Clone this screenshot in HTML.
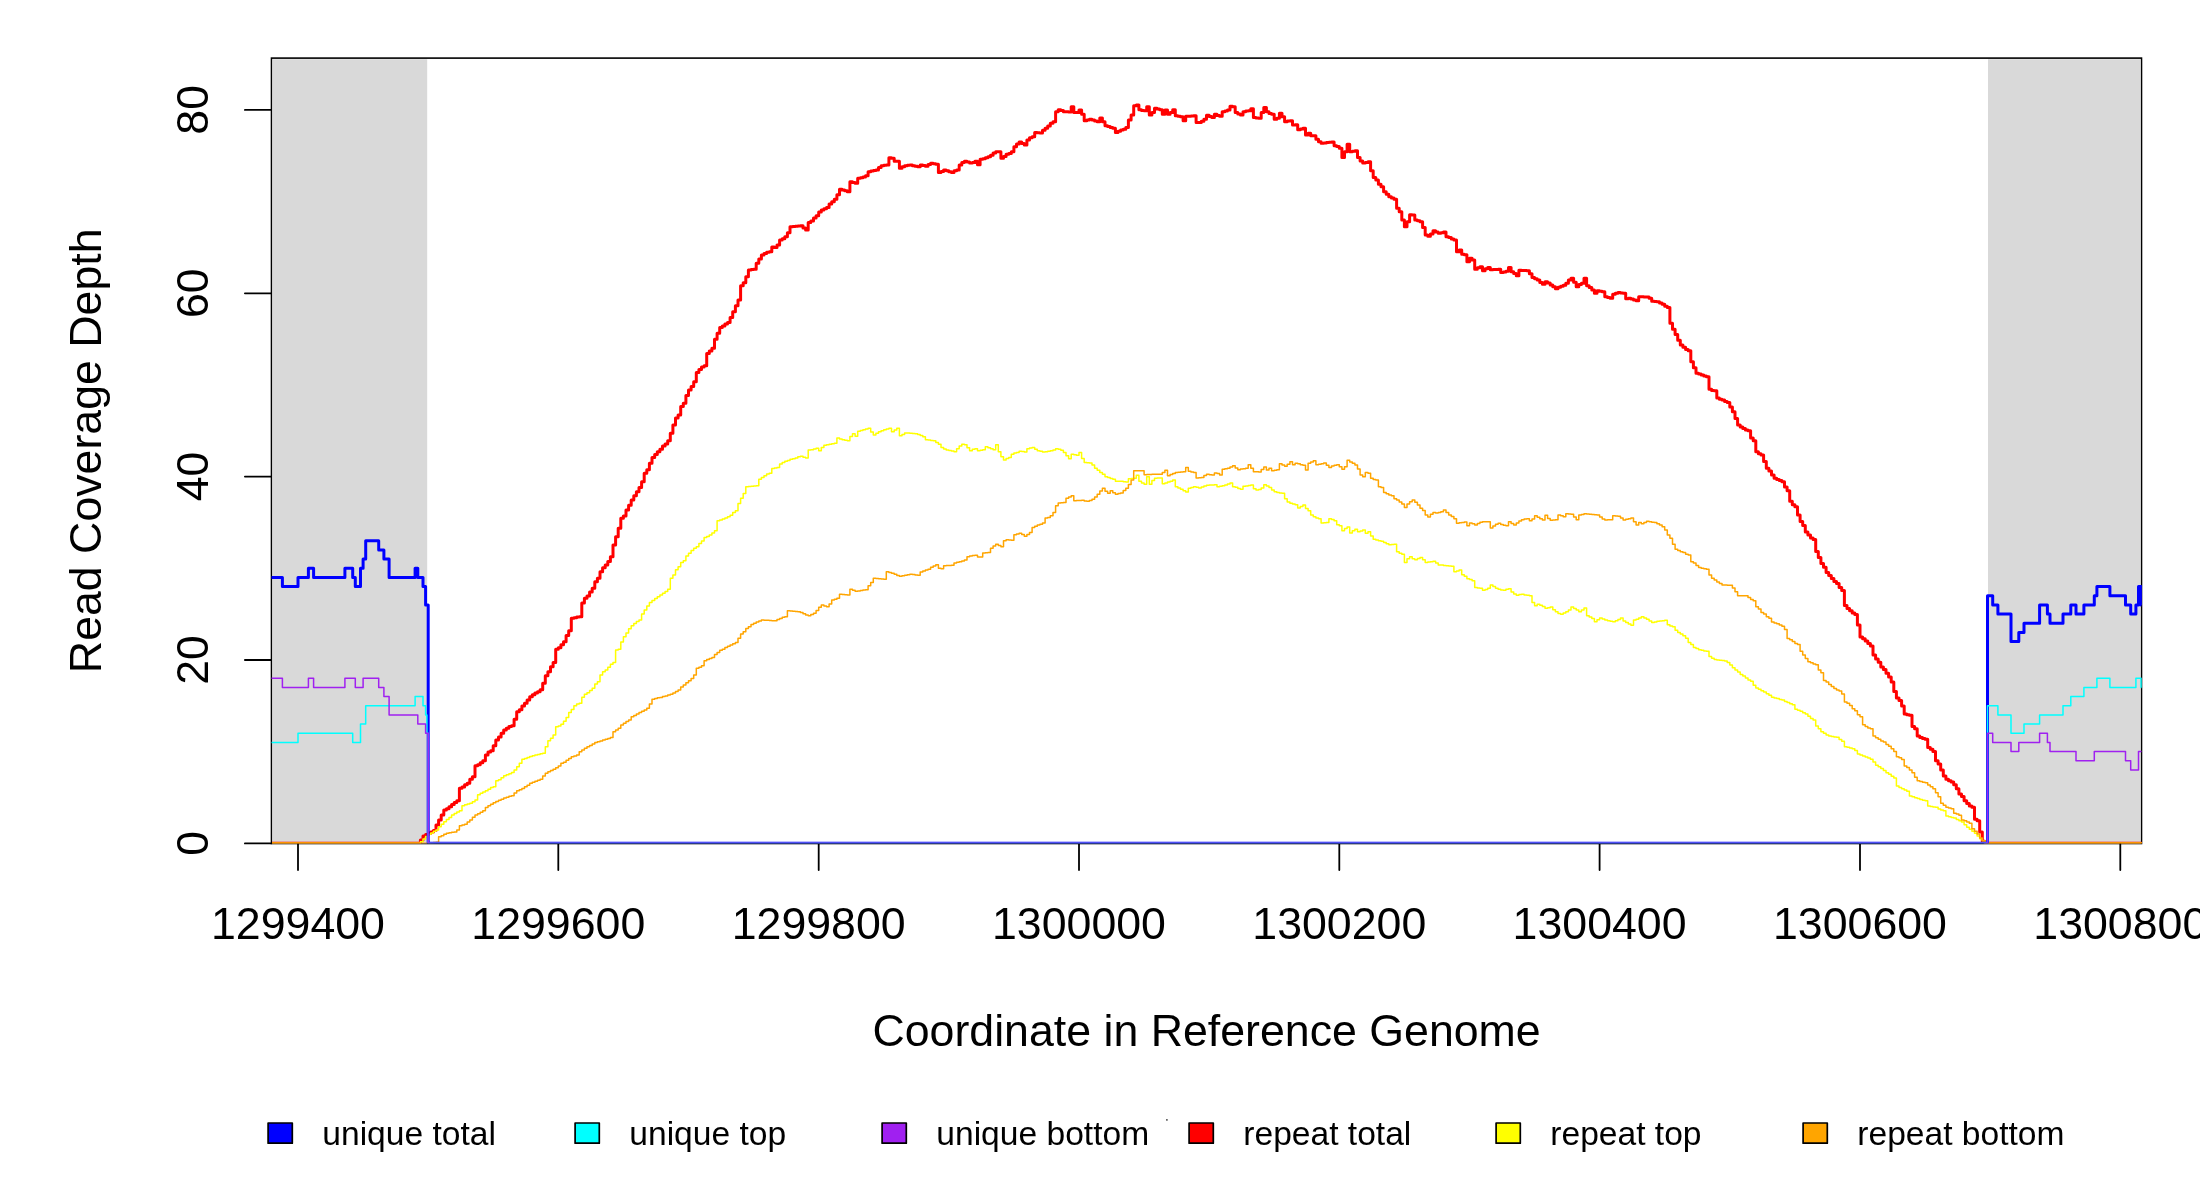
<!DOCTYPE html>
<html lang="en"><head><meta charset="utf-8"><title>Read Coverage Depth</title>
<style>html,body{margin:0;padding:0;background:#fff}body{width:2200px;height:1200px;overflow:hidden}svg{display:block;will-change:transform}text{font-family:"Liberation Sans",Arial,Helvetica,sans-serif;fill:#000}</style></head><body>
<svg width="2200" height="1200" viewBox="0 0 2200 1200">
<rect width="2200" height="1200" fill="#fff"/>
<defs><clipPath id="pc"><rect x="271.1" y="58.1" width="1870.8" height="785.2"/></clipPath></defs>
<rect x="271.5" y="58.1" width="1870.0" height="785.4" fill="none" stroke="#000" stroke-width="1.6"/>
<rect x="272.30" y="59.20" width="154.90" height="784.20" fill="#d9d9d9"/>
<rect x="1988.00" y="59.20" width="152.70" height="784.20" fill="#d9d9d9"/>
<g stroke="#000" stroke-width="1.8" fill="none" stroke-linecap="round">
<path d="M298.0 843.9V870.0"/>
<path d="M558.3 843.9V870.0"/>
<path d="M818.7 843.9V870.0"/>
<path d="M1079.0 843.9V870.0"/>
<path d="M1339.3 843.9V870.0"/>
<path d="M1599.6 843.9V870.0"/>
<path d="M1860.0 843.9V870.0"/>
<path d="M2120.3 843.9V870.0"/>
<path d="M271.0 843.4H244.9"/>
<path d="M271.0 660.0H244.9"/>
<path d="M271.0 476.6H244.9"/>
<path d="M271.0 293.3H244.9"/>
<path d="M271.0 109.9H244.9"/>
</g>
<g clip-path="url(#pc)" fill="none" stroke-linejoin="round" stroke-linecap="butt">
<path d="M272.0 843.3H420.4V840.0H423.0V836.0H425.6V834.5H428.2V833.3H430.8V832.0H433.4V830.4H436.0V825.0H438.6V820.0H441.2V815.0H443.8V810.0H446.4V808.8H449.0V806.7H451.6V804.6H454.2V802.5H456.8V800.8H459.4V788.3H462.0V786.9H464.6V784.7H467.2V783.3H469.8V779.2H472.4V776.7H475.0V765.8H477.6V764.7H480.2V762.8H482.8V760.8H485.4V755.0H488.0V752.0H490.6V750.8H493.2V745.8H495.8V740.0H498.5V737.1H501.1V733.3H503.7V730.0H506.3V728.3H508.9V726.6H511.5V725.8H514.1V719.2H516.7V711.7H519.3V709.7H521.9V705.9H524.5V703.3H527.1V700.0H529.7V696.7H532.3V694.7H534.9V693.0H537.5V691.8H540.1V689.7H542.7V683.3H545.3V675.8H547.9V671.7H550.5V666.7H553.1V662.5H555.7V649.2H558.3V647.7H560.9V644.8H563.5V641.7H566.1V635.4H568.7V630.8H571.3V618.3H573.9V617.8H576.6V617.1H579.2V616.7H581.8V602.9H584.4V598.3H587.0V595.9H589.6V592.0H592.2V588.3H594.8V581.7H597.4V578.3H600.0V571.7H602.6V567.8H605.2V565.0H607.8V561.6H610.4V556.7H613.0V545.0H615.6V536.7H618.2V528.3H620.8V518.3H623.4V516.0H626.0V510.0H628.6V505.2H631.2V500.0H633.8V495.7H636.4V491.7H639.0V487.6H641.6V481.7H644.2V473.3H646.8V469.8H649.4V463.3H652.0V457.5H654.7V454.5H657.3V451.7H659.9V449.2H662.5V446.0H665.1V443.9H667.7V440.8H670.3V433.3H672.9V425.0H675.5V418.0H678.1V415.0H680.7V406.4H683.3V403.3H685.9V395.6H688.5V390.0H691.1V386.6H693.7V381.7H696.3V372.5H698.9V369.4H701.5V367.0H704.1V365.8H706.7V353.6H709.3V351.0H711.9V348.3H714.5V339.3H717.1V333.3H719.7V327.5H722.3V326.0H724.9V324.1H727.5V322.5H730.1V317.4H732.7V311.7H735.4V305.8H738.0V300.0H740.6V285.8H743.2V282.7H745.8V276.7H748.4V270.0H751.0V269.6H753.6V269.2H756.2V263.3H758.8V258.9H761.4V255.0H764.0V253.4H766.6V252.3H769.2V251.7H771.8V247.1H774.4V247.5H777.0V245.1H779.6V240.0H782.2V238.8H784.8V236.7H787.4V232.7H790.0V226.7H792.6V226.5H795.2V226.3H797.8V226.0H800.4V225.8H803.0V228.0H805.6V230.0H808.2V222.5H810.8V221.0H813.5V218.0H816.1V215.8H818.7V212.0H821.3V210.0H823.9V208.7H826.5V207.5H829.1V204.0H831.7V201.7H834.3V199.2H836.9V194.7H839.5V189.2H842.1V190.1H844.7V190.8H847.3V191.7H849.9V181.7H852.5V182.5H855.1V183.3H857.7V178.3H860.3V177.8H862.9V176.9H865.5V175.8H868.1V171.7H870.7V171.1H873.3V170.5H875.9V170.0H878.5V167.4H881.1V165.8H883.7V165.3H886.3V165.0H888.9V157.7H891.5V158.3H894.2V161.3H899.4V168.3H902.0V166.7H904.6V165.8H907.2V165.3H909.8V165.0H912.4V165.7H915.0V166.2H917.6V166.7H920.2V165.0H922.8V165.6H925.4V166.3H928.0V164.4H930.6V163.3H933.2V163.7H935.8V164.2H938.4V172.5H941.0V171.6H943.6V170.0H946.2V170.8H948.8V171.7H951.4V172.5H954.0V170.8H956.6V170.0H959.2V165.0H961.8V162.5H964.4V161.3H967.0V161.9H969.6V163.0H972.3V162.4H974.9V161.3H977.5V164.7H980.1V159.2H982.7V158.7H985.3V157.8H987.9V156.7H990.5V155.2H993.1V152.9H995.7V151.7H1000.9V158.3H1003.5V156.4H1006.1V154.2H1008.7V153.4H1011.3V151.7H1013.9V146.7H1016.5V144.1H1019.1V142.0H1021.7V143.6H1024.3V145.0H1026.9V140.0H1029.5V137.8H1032.1V136.7H1034.7V132.4H1037.3V132.8H1039.9V133.0H1042.5V130.3H1045.1V128.3H1047.7V126.0H1050.3V123.3H1053.0V121.7H1055.6V111.7H1058.2V109.7H1060.8V110.5H1063.4V111.7H1066.0V111.8H1068.6V112.0H1071.2V106.7H1073.8V112.5H1079.0V110.0H1081.6V114.2H1084.2V120.8H1086.8V119.9H1089.4V119.2H1092.0V120.0H1094.6V120.9H1097.2V121.7H1099.8V118.0H1102.4V121.7H1105.0V125.8H1107.6V126.4H1110.2V127.5H1112.8V128.3H1115.4V132.5H1118.0V131.2H1120.6V129.9H1123.2V129.2H1125.8V127.5H1128.4V120.0H1131.1V115.0H1133.7V105.8H1136.3V105.0H1138.9V109.7H1141.5V110.4H1144.1V110.8H1146.7V106.7H1149.3V115.0H1151.9V112.5H1154.5V108.3H1157.1V108.9H1159.7V109.7H1162.3V114.2H1164.9V110.0H1167.5V114.2H1170.1V112.5H1172.7V109.7H1175.3V115.8H1177.9V116.3H1180.5V116.7H1183.1V120.8H1185.7V116.3H1188.3V116.2H1190.9V116.0H1193.5V115.8H1196.1V122.5H1201.3V121.3H1203.9V119.2H1206.5V115.3H1209.2V116.4H1211.8V117.5H1214.4V114.2H1217.0V115.4H1219.6V116.3H1222.2V111.7H1224.8V110.9H1227.4V110.0H1230.0V106.3H1232.6V106.7H1235.2V112.5H1237.8V113.9H1240.4V115.0H1243.0V111.7H1245.6V111.1H1248.2V110.8H1250.8V108.7H1253.4V117.5H1256.0V117.9H1258.6V118.3H1261.2V112.5H1263.8V107.5H1266.4V111.7H1269.0V113.5H1271.6V114.2H1274.2V119.2H1276.8V118.3H1279.4V113.3H1282.0V116.7H1284.6V121.7H1287.2V121.1H1289.9V120.8H1292.5V125.0H1295.1V124.7H1297.7V129.7H1300.3V129.1H1302.9V128.3H1305.5V135.0H1308.1V133.3H1310.7V135.8H1315.9V139.2H1318.5V141.7H1321.1V143.3H1323.7V142.9H1326.3V142.6H1328.9V142.3H1331.5V142.0H1334.1V145.8H1336.7V146.5H1339.3V148.3H1341.9V157.5H1344.5V151.7H1347.1V144.2H1349.7V151.7H1352.3V151.2H1354.9V150.8H1357.5V157.5H1360.1V161.0H1362.7V163.0H1365.3V162.4H1368.0V161.7H1370.6V170.8H1373.2V177.5H1375.8V180.0H1378.4V184.2H1381.0V186.8H1383.6V191.7H1386.2V194.2H1388.8V196.7H1391.4V198.0H1394.0V199.2H1396.6V208.3H1399.2V211.7H1401.8V220.0H1404.4V226.7H1407.0V221.7H1409.6V214.7H1412.2V215.0H1414.8V220.0H1417.4V220.8H1420.0V221.7H1422.6V227.5H1425.2V235.0H1427.8V236.3H1430.4V234.0H1433.0V230.8H1435.6V232.0H1438.2V233.3H1440.8V232.7H1443.4V232.0H1446.0V236.7H1448.7V237.6H1451.3V239.1H1453.9V240.0H1456.5V251.7H1459.1V250.0H1461.7V254.2H1464.3V254.7H1466.9V261.7H1469.5V258.3H1472.1V260.0H1474.7V269.2H1477.3V267.7H1479.9V266.7H1482.5V270.8H1485.1V268.8H1487.7V267.5H1490.3V269.7H1492.9V269.5H1495.5V269.4H1498.1V269.2H1500.7V272.5H1503.3V271.9H1505.9V271.3H1508.5V267.5H1511.1V271.7H1513.7V273.4H1516.3V275.8H1518.9V270.3H1521.5V270.4H1524.1V270.6H1526.8V270.8H1529.4V273.8H1532.0V277.5H1534.6V278.8H1537.2V280.0H1539.8V282.4H1542.4V284.2H1545.0V281.7H1547.6V283.1H1550.2V285.0H1552.8V286.8H1555.4V288.7H1558.0V287.2H1560.6V286.3H1563.2V285.3H1565.8V283.3H1568.4V280.0H1571.0V278.3H1573.6V282.3H1576.2V286.7H1578.8V284.4H1581.4V283.3H1584.0V278.3H1586.6V285.8H1589.2V287.5H1591.8V290.0H1594.4V293.3H1597.0V290.8H1599.6V291.3H1602.2V291.7H1604.8V296.7H1607.5V297.5H1610.1V298.3H1612.7V294.2H1615.3V293.3H1617.9V292.5H1620.5V293.0H1623.1V293.3H1625.7V298.8H1628.3V298.3H1630.9V299.0H1633.5V299.9H1636.1V300.8H1638.7V296.7H1641.3V296.8H1643.9V296.9H1646.5V297.0H1649.1V298.3H1651.7V301.3H1654.3V301.5H1656.9V301.7H1659.5V303.0H1662.1V304.2H1664.7V306.3H1667.3V307.5H1669.9V323.3H1672.5V329.2H1675.1V334.5H1677.7V340.3H1680.3V345.0H1682.9V347.2H1685.6V349.5H1688.2V350.8H1690.8V361.7H1693.4V367.7H1696.0V373.3H1698.6V373.9H1701.2V375.0H1703.8V376.0H1706.4V376.7H1709.0V389.2H1711.6V390.4H1714.2V390.8H1716.8V398.1H1719.4V399.2H1722.0V400.0H1724.6V401.5H1727.2V402.5H1729.8V406.9H1732.4V411.7H1735.0V418.6H1737.6V425.0H1740.2V426.9H1742.8V428.4H1745.4V429.9H1748.0V430.8H1750.6V438.1H1753.2V440.8H1755.8V451.7H1758.4V453.7H1761.0V455.0H1763.6V461.6H1766.3V468.3H1768.9V471.1H1771.5V475.0H1774.1V478.3H1776.7V479.5H1779.3V480.6H1781.9V481.7H1784.5V487.1H1787.1V490.8H1789.7V501.2H1792.3V504.8H1794.9V506.7H1797.5V515.0H1800.1V521.5H1802.7V525.4H1805.3V532.0H1807.9V535.0H1810.5V537.9H1813.1V539.5H1815.7V551.5H1818.3V557.4H1820.9V563.5H1823.5V567.2H1826.1V572.4H1828.7V575.5H1831.3V578.4H1833.9V581.5H1836.5V583.5H1839.1V587.4H1841.7V590.5H1844.4V605.5H1847.0V608.5H1849.6V610.7H1852.2V612.9H1854.8V614.5H1857.4V625.0H1860.0V637.0H1862.6V638.7H1865.2V641.1H1867.8V643.5H1870.4V646.0H1873.0V655.0H1875.6V658.9H1878.2V662.3H1880.8V667.0H1883.4V669.4H1886.0V673.2H1888.6V676.9H1891.2V682.0H1893.8V691.5H1896.4V698.0H1899.0V700.4H1901.6V706.0H1904.2V714.0H1906.8V714.7H1909.4V715.3H1912.0V726.4H1914.6V728.7H1917.2V736.0H1919.8V737.4H1922.5V738.6H1925.1V739.3H1927.7V747.6H1930.3V749.3H1932.9V751.5H1935.5V760.7H1938.1V763.9H1940.7V770.0H1943.3V776.0H1945.9V779.3H1948.5V780.7H1951.1V782.0H1953.7V784.8H1956.3V788.7H1958.9V794.0H1961.5V796.5H1964.1V800.7H1966.7V803.4H1969.3V805.9H1971.9V807.3H1974.5V819.2H1977.1V820.7H1979.7V832.0H1982.3V841.3H1984.9V843.3H2143.7" stroke="#ff0000" stroke-width="3"/>
<path d="M272.0 843.3H420.4V841.8H423.0V839.0H425.6V836.5H428.2V834.2H430.8V832.9H433.4V831.3H436.0V830.0H438.6V826.8H441.2V824.2H443.8V821.7H446.4V819.5H449.0V817.4H451.6V815.0H454.2V813.6H456.8V812.0H459.4V810.8H462.0V805.8H464.6V804.8H467.2V803.9H469.8V803.3H472.4V801.7H475.0V800.0H477.6V794.7H480.2V793.2H482.8V792.0H485.4V790.8H488.0V789.2H490.6V787.5H493.2V786.7H495.8V780.8H498.5V779.7H501.1V777.8H503.7V775.8H506.3V774.8H508.9V773.7H511.5V772.5H514.1V770.1H516.7V766.7H519.3V763.3H521.9V759.2H524.5V758.4H527.1V757.5H529.7V756.6H532.3V755.8H534.9V755.1H537.5V754.4H540.1V753.8H542.7V753.3H545.3V746.7H547.9V740.8H550.5V738.2H553.1V735.0H555.7V726.7H558.3V726.0H560.9V724.2H563.5V721.2H566.1V717.5H568.7V712.5H571.3V709.6H573.9V705.8H576.6V704.1H579.2V703.3H581.8V697.3H584.4V694.2H587.0V692.8H589.6V690.5H592.2V688.3H594.8V683.9H597.4V681.7H600.0V675.0H602.6V671.7H605.2V670.0H607.8V667.2H610.4V664.3H613.0V662.5H615.6V650.0H618.2V649.2H620.8V642.1H623.4V636.7H626.0V632.9H628.6V628.7H631.2V625.8H633.8V623.4H636.4V621.6H639.0V620.0H641.6V614.1H644.2V610.0H646.8V605.9H649.4V602.5H652.0V600.5H654.7V598.5H657.3V596.7H659.9V594.9H662.5V593.2H665.1V591.5H667.7V589.2H670.3V578.3H672.9V575.0H675.5V569.7H678.1V566.7H680.7V562.4H683.3V560.8H685.9V555.9H688.5V553.3H691.1V550.5H693.7V548.2H696.3V546.7H698.9V543.5H701.5V541.1H704.1V537.5H706.7V536.6H709.3V534.9H711.9V533.1H714.5V530.8H717.1V520.8H719.7V520.1H722.3V519.1H724.9V518.1H727.5V516.7H730.1V515.2H732.7V512.6H735.4V510.8H738.0V503.5H740.6V498.3H743.2V493.4H745.8V486.7H748.4V486.6H751.0V486.3H753.6V486.0H756.2V485.8H758.8V479.2H761.4V477.5H764.0V475.8H766.6V474.1H769.2V473.3H771.8V468.5H774.4V467.9H777.0V467.5H779.6V464.1H782.2V462.5H784.8V461.3H787.4V460.4H790.0V459.2H792.6V458.7H795.2V457.9H797.8V456.7H800.4V456.3H803.0V457.2H805.6V458.0H808.2V450.0H810.8V449.7H813.5V449.0H816.1V448.3H818.7V450.8H821.3V447.4H823.9V445.3H826.5V444.7H829.1V444.2H831.7V443.8H834.3V443.3H836.9V438.0H839.5V439.1H842.1V439.7H844.7V440.3H847.3V440.8H849.9V436.5H852.5V433.7H855.1V436.3H857.7V431.3H860.3V430.4H862.9V429.7H865.5V429.0H868.1V428.3H870.7V432.1H873.3V435.0H875.9V433.3H878.5V431.8H881.1V430.8H883.7V429.8H886.3V429.0H888.9V428.3H891.5V431.7H894.2V430.0H896.8V428.3H899.4V435.8H902.0V434.4H904.6V433.0H907.2V433.1H909.8V433.3H912.4V433.5H915.0V433.7H917.6V434.5H920.2V435.4H922.8V436.7H925.4V439.7H928.0V440.1H930.6V440.6H933.2V440.8H935.8V442.5H938.4V444.2H941.0V447.5H943.6V448.9H946.2V450.0H948.8V450.6H951.4V451.1H954.0V451.7H956.6V448.7H959.2V446.0H961.8V444.2H964.4V444.7H967.0V447.7H969.6V450.8H972.3V449.3H974.9V448.7H977.5V450.8H980.1V450.3H982.7V449.7H985.3V446.7H987.9V447.7H990.5V448.7H993.1V449.7H995.7V444.7H998.3V451.7H1000.9V456.7H1003.5V460.0H1006.1V458.6H1008.7V457.5H1011.3V454.2H1013.9V453.1H1016.5V452.5H1019.1V451.3H1021.7V451.5H1024.3V452.0H1026.9V448.7H1029.5V448.1H1032.1V447.5H1034.7V449.3H1037.3V450.8H1039.9V451.3H1042.5V452.0H1045.1V451.7H1047.7V451.3H1050.3V450.8H1053.0V449.9H1055.6V448.7H1058.2V449.2H1060.8V450.3H1063.4V452.5H1066.0V455.8H1068.6V458.7H1071.2V454.2H1073.8V454.8H1076.4V455.3H1079.0V452.5H1081.6V458.6H1084.2V462.5H1086.8V462.8H1089.4V463.0H1092.0V465.1H1094.6V468.3H1097.2V470.2H1099.8V472.5H1102.4V474.2H1105.0V476.7H1107.6V477.5H1110.2V478.5H1112.8V479.2H1115.4V481.3H1123.2V481.7H1125.8V482.0H1128.4V478.7H1131.1V478.5H1133.7V478.3H1136.3V475.3H1138.9V481.3H1141.5V482.9H1144.1V484.2H1146.7V476.7H1149.3V484.2H1151.9V480.4H1154.5V478.3H1157.1V478.1H1159.7V478.0H1162.3V483.7H1164.9V483.0H1167.5V482.0H1170.1V481.3H1172.7V480.0H1175.3V486.7H1177.9V488.0H1180.5V489.2H1183.1V490.7H1185.7V492.0H1188.3V488.3H1190.9V487.6H1193.5V486.7H1196.1V487.3H1198.7V488.0H1201.3V486.9H1203.9V485.9H1206.5V485.3H1209.2V485.1H1211.8V484.9H1214.4V484.7H1217.0V486.7H1219.6V486.2H1222.2V485.7H1224.8V485.0H1227.4V484.0H1230.0V483.0H1232.6V486.7H1235.2V487.3H1237.8V488.5H1240.4V489.2H1243.0V486.3H1245.6V485.9H1248.2V485.5H1250.8V485.0H1253.4V488.7H1256.0V490.0H1258.6V489.4H1261.2V488.0H1263.8V484.7H1266.4V486.0H1269.0V487.5H1271.6V490.0H1274.2V491.7H1276.8V492.4H1279.4V492.9H1282.0V493.3H1284.6V498.7H1287.2V502.0H1289.9V503.3H1292.5V504.1H1295.1V504.7H1297.7V508.0H1300.3V506.6H1302.9V505.0H1305.5V508.6H1308.1V510.8H1310.7V515.1H1313.3V516.7H1315.9V517.9H1318.5V518.7H1321.1V523.0H1323.7V522.7H1326.3V522.5H1328.9V518.7H1331.5V519.5H1334.1V520.8H1336.7V524.7H1339.3V525.8H1341.9V530.8H1344.5V528.5H1347.1V527.0H1349.7V533.0H1352.3V530.8H1354.9V529.2H1357.5V531.7H1360.1V531.0H1362.7V530.0H1365.3V533.3H1368.0V531.7H1370.6V535.9H1373.2V539.2H1375.8V540.1H1378.4V540.8H1381.0V541.3H1383.6V542.6H1386.2V543.7H1388.8V544.7H1391.4V544.5H1394.0V544.2H1396.6V551.7H1399.2V553.2H1401.8V554.2H1404.4V562.5H1407.0V558.7H1409.6V556.7H1412.2V558.8H1414.8V559.7H1417.4V558.5H1420.0V557.5H1422.6V559.7H1425.2V562.5H1427.8V562.1H1430.4V561.7H1433.0V561.3H1435.6V562.9H1438.2V565.0H1440.8V565.1H1443.4V565.4H1446.0V565.7H1448.7V566.0H1451.3V566.3H1453.9V571.7H1456.5V570.9H1459.1V570.0H1461.7V574.7H1464.3V576.2H1466.9V578.7H1469.5V579.4H1472.1V580.8H1474.7V587.5H1477.3V587.9H1479.9V588.3H1482.5V590.3H1485.1V589.5H1487.7V588.3H1490.3V585.0H1492.9V586.6H1495.5V588.3H1498.1V589.2H1500.7V589.9H1503.3V590.3H1505.9V589.3H1508.5V588.7H1511.1V592.0H1513.7V594.0H1516.3V595.3H1518.9V594.5H1521.5V594.2H1524.1V594.9H1526.8V595.3H1529.4V595.8H1532.0V602.5H1534.6V605.8H1537.2V604.2H1539.8V605.2H1542.4V606.6H1545.0V608.3H1547.6V607.7H1550.2V607.0H1552.8V609.7H1555.4V611.7H1558.0V613.4H1560.6V614.2H1563.2V613.0H1565.8V611.7H1568.4V610.1H1571.0V607.0H1573.6V608.5H1576.2V610.1H1578.8V611.7H1581.4V610.0H1584.0V608.0H1586.6V615.8H1589.2V617.0H1591.8V618.6H1594.4V621.7H1597.0V619.8H1599.6V618.0H1602.2V619.0H1604.8V620.0H1607.5V620.8H1610.1V621.2H1612.7V621.7H1615.3V620.8H1617.9V619.4H1620.5V618.0H1623.1V620.9H1625.7V622.5H1628.3V624.1H1630.9V625.3H1633.5V620.0H1636.1V619.2H1638.7V617.9H1641.3V616.7H1643.9V617.9H1646.5V619.2H1649.1V620.9H1651.7V622.5H1654.3V621.9H1656.9V621.3H1659.5V621.0H1662.1V620.7H1664.7V620.3H1667.3V624.7H1669.9V625.9H1672.5V626.7H1675.1V630.3H1677.7V632.5H1680.3V634.1H1682.9V635.8H1685.6V638.3H1688.2V642.5H1690.8V644.6H1693.4V647.5H1696.0V648.4H1698.6V649.8H1701.2V650.2H1703.8V650.9H1706.4V651.3H1709.0V656.5H1711.6V658.3H1714.2V659.5H1716.8V659.9H1719.4V660.2H1722.0V660.5H1724.6V661.0H1727.2V662.5H1729.8V665.1H1732.4V667.8H1735.0V669.9H1737.6V672.0H1740.2V674.5H1742.8V676.1H1745.4V678.1H1748.0V680.0H1750.6V681.3H1753.2V685.3H1755.8V688.0H1758.4V689.3H1761.0V690.7H1763.6V692.1H1766.3V693.7H1768.9V695.3H1771.5V697.3H1774.1V697.9H1776.7V698.6H1779.3V699.4H1781.9V700.0H1784.5V701.4H1787.1V702.5H1789.7V703.7H1792.3V704.7H1794.9V709.3H1797.5V710.3H1800.1V711.3H1802.7V712.7H1805.3V713.9H1807.9V716.3H1810.5V718.6H1813.1V720.0H1815.7V726.0H1818.3V728.7H1820.9V731.8H1823.5V733.3H1826.1V735.0H1828.7V736.0H1831.3V736.5H1833.9V737.0H1836.5V737.3H1839.1V739.4H1841.7V741.3H1844.4V746.7H1847.0V747.3H1849.6V747.9H1852.2V748.7H1854.8V750.5H1857.4V754.0H1860.0V755.0H1862.6V756.1H1865.2V757.1H1867.8V758.1H1870.4V759.3H1873.0V761.9H1875.6V765.3H1878.2V766.8H1880.8V768.6H1883.4V770.4H1886.0V772.7H1888.6V774.2H1891.2V776.3H1893.8V778.0H1896.4V786.0H1899.0V787.5H1901.6V788.8H1904.2V790.1H1906.8V791.3H1909.4V796.0H1912.0V796.8H1914.6V797.7H1917.2V798.5H1919.8V799.4H1922.5V800.2H1925.1V800.7H1927.7V805.9H1930.3V806.4H1932.9V806.9H1935.5V807.3H1938.1V808.9H1940.7V810.1H1943.3V810.7H1945.9V816.0H1948.5V816.7H1951.1V817.4H1953.7V818.0H1956.3V819.4H1958.9V820.7H1961.5V822.0H1964.1V824.7H1966.7V827.3H1969.3V829.3H1971.9V831.2H1974.5V833.3H1977.1V836.0H1979.7V838.8H1982.3V840.7H1984.9V843.3H2143.7" stroke="#ffff00" stroke-width="1.5"/>
<path d="M272.0 843.3H428.2V842.9H430.8V842.7H433.4V842.5H436.0V842.3H438.6V836.7H441.2V835.7H443.8V834.2H446.4V833.3H449.0V832.7H451.6V832.2H454.2V832.0H456.8V830.0H459.4V825.8H462.0V825.0H464.6V824.2H467.2V821.9H469.8V820.0H472.4V817.2H475.0V815.0H477.6V813.8H480.2V812.3H482.8V810.8H485.4V807.5H488.0V805.8H490.6V804.2H493.2V802.8H495.8V801.5H498.5V800.2H501.1V799.2H503.7V798.1H506.3V797.2H508.9V796.3H511.5V795.8H514.1V793.0H516.7V790.8H519.3V789.7H521.9V788.4H524.5V786.7H527.1V785.3H529.7V783.3H532.3V782.2H534.9V781.3H537.5V780.3H540.1V779.2H542.7V775.9H545.3V773.3H547.9V771.8H550.5V770.6H553.1V769.2H555.7V767.8H558.3V765.9H560.9V763.3H563.5V762.2H566.1V760.3H568.7V758.5H571.3V756.7H573.9V755.9H576.6V755.0H579.2V751.7H581.8V749.9H584.4V748.3H587.0V746.7H589.6V745.4H592.2V744.1H594.8V742.5H597.4V741.8H600.0V741.0H602.6V740.1H605.2V739.2H607.8V738.4H610.4V737.5H613.0V731.7H615.6V729.9H618.2V728.3H620.8V725.0H623.4V723.2H626.0V721.6H628.6V720.0H631.2V716.7H633.8V715.6H636.4V713.9H639.0V712.5H641.6V711.2H644.2V710.0H646.8V708.3H649.4V704.0H652.0V699.2H654.7V698.4H657.3V697.8H659.9V697.5H662.5V696.6H665.1V695.9H667.7V695.0H670.3V694.2H672.9V692.9H675.5V691.6H678.1V690.0H680.7V687.0H683.3V685.0H685.9V682.8H688.5V680.8H691.1V678.6H693.7V675.0H696.3V668.3H698.9V667.3H701.5V665.8H704.1V660.8H706.7V659.6H709.3V658.6H711.9V657.5H714.5V654.5H717.1V652.5H719.7V650.2H722.3V649.2H724.9V647.4H727.5V646.2H730.1V645.0H732.7V643.8H735.4V642.5H738.0V638.3H740.6V634.1H743.2V631.7H745.8V628.5H748.4V626.7H751.0V624.6H753.6V623.3H756.2V622.0H758.8V621.0H761.4V620.0H764.0V620.2H766.6V620.3H769.2V620.5H771.8V620.7H774.4V620.8H777.0V619.4H779.6V618.4H782.2V617.3H784.8V616.7H787.4V610.8H790.0V610.9H792.6V611.2H795.2V611.4H797.8V611.7H800.4V612.6H803.0V613.8H805.6V615.1H808.2V615.8H810.8V614.4H813.5V613.3H816.1V610.4H818.7V607.2H821.3V605.0H823.9V605.9H826.5V606.7H829.1V603.9H831.7V600.0H834.3V599.3H836.9V598.3H839.5V594.2H842.1V594.5H844.7V594.7H847.3V595.0H849.9V589.2H852.5V590.3H855.1V591.3H857.7V590.9H860.3V590.5H862.9V590.1H865.5V589.7H868.1V585.8H870.7V582.5H873.3V578.3H875.9V578.6H878.5V578.8H881.1V579.0H883.7V579.2H886.3V571.7H888.9V572.6H891.5V573.3H894.2V574.3H896.8V575.4H899.4V576.3H902.0V575.8H904.6V575.3H907.2V574.8H909.8V574.2H912.4V574.6H915.0V575.0H917.6V575.3H920.2V572.0H922.8V571.0H925.4V569.9H928.0V569.2H930.6V567.3H933.2V565.9H935.8V564.7H938.4V568.3H941.0V568.7H943.6V565.8H946.2V565.6H948.8V565.4H951.4V565.3H954.0V563.0H956.6V562.2H959.2V561.7H961.8V560.9H964.4V560.0H967.0V556.7H969.6V556.1H972.3V555.6H974.9V555.3H977.5V557.0H982.7V553.0H985.3V552.8H987.9V552.5H990.5V548.3H993.1V546.1H995.7V544.2H998.3V545.4H1000.9V546.7H1003.5V540.8H1006.1V539.7H1008.7V539.9H1011.3V540.3H1013.9V534.7H1016.5V534.0H1019.1V533.3H1021.7V534.6H1024.3V536.3H1026.9V534.5H1029.5V532.5H1032.1V527.5H1034.7V526.2H1037.3V524.9H1039.9V524.2H1042.5V523.0H1045.1V518.0H1047.7V517.5H1050.3V515.8H1053.0V512.5H1055.6V505.8H1058.2V503.0H1060.8V502.8H1063.4V502.5H1066.0V498.3H1068.6V497.1H1071.2V495.8H1073.8V500.8H1076.4V500.6H1079.0V500.4H1081.6V500.3H1084.2V500.9H1086.8V501.3H1089.4V500.4H1092.0V499.2H1094.6V497.1H1097.2V494.2H1099.8V490.9H1102.4V488.3H1105.0V491.3H1107.6V493.3H1110.2V490.8H1112.8V492.7H1115.4V494.2H1118.0V493.4H1120.6V493.0H1123.2V490.4H1125.8V488.3H1128.4V484.6H1131.1V480.0H1133.7V470.8H1144.1V474.7H1146.7V474.5H1149.3V474.4H1151.9V474.2H1162.3V472.4H1164.9V470.3H1167.5V475.8H1170.1V474.6H1172.7V473.6H1175.3V472.5H1177.9V472.2H1180.5V472.0H1183.1V471.7H1185.7V467.5H1188.3V471.3H1190.9V471.9H1193.5V472.5H1196.1V478.0H1198.7V477.7H1201.3V477.5H1203.9V475.6H1206.5V474.2H1209.2V474.7H1211.8V475.0H1214.4V473.0H1217.0V473.6H1219.6V475.0H1222.2V469.2H1224.8V468.7H1227.4V468.3H1230.0V467.0H1232.6V465.8H1235.2V468.0H1237.8V469.7H1240.4V469.1H1243.0V468.7H1245.6V468.3H1248.2V464.7H1250.8V468.3H1253.4V471.7H1256.0V471.8H1258.6V472.0H1261.2V469.5H1263.8V467.0H1266.4V470.0H1269.0V468.3H1271.6V470.8H1274.2V470.3H1276.8V469.7H1279.4V463.7H1282.0V465.0H1284.6V466.3H1287.2V464.2H1289.9V461.7H1292.5V464.7H1295.1V463.3H1297.7V463.8H1300.3V464.7H1302.9V465.3H1305.5V470.0H1308.1V463.3H1310.7V461.9H1313.3V460.8H1315.9V464.7H1318.5V464.3H1321.1V463.7H1323.7V463.0H1326.3V465.3H1328.9V467.5H1331.5V466.0H1334.1V465.3H1336.7V464.7H1339.3V466.8H1341.9V469.2H1344.5V466.7H1347.1V460.3H1349.7V461.9H1352.3V463.3H1354.9V465.0H1357.5V469.1H1360.1V475.0H1362.7V476.7H1365.3V472.5H1368.0V473.3H1370.6V478.3H1373.2V479.4H1375.8V480.0H1378.4V486.7H1381.0V487.5H1383.6V492.5H1386.2V493.7H1388.8V495.0H1391.4V495.8H1394.0V498.8H1396.6V500.0H1399.2V502.0H1401.8V503.9H1404.4V507.5H1407.0V504.0H1409.6V501.7H1412.2V500.0H1414.8V502.3H1417.4V505.0H1420.0V508.3H1422.6V510.6H1425.2V515.0H1427.8V517.0H1430.4V514.2H1433.0V512.5H1435.6V513.1H1438.2V512.5H1440.8V511.7H1443.4V510.0H1446.0V512.4H1448.7V515.0H1451.3V516.6H1453.9V518.7H1456.5V523.3H1459.1V522.8H1461.7V522.4H1464.3V522.0H1466.9V525.8H1469.5V523.0H1472.1V523.8H1474.7V525.0H1477.3V523.6H1479.9V522.3H1482.5V521.7H1490.3V528.0H1492.9V525.9H1495.5V524.2H1498.1V523.3H1500.7V524.4H1503.3V525.2H1505.9V525.8H1508.5V521.7H1511.1V523.5H1513.7V525.0H1516.3V522.9H1518.9V520.9H1521.5V519.7H1524.1V519.1H1526.8V518.7H1529.4V520.8H1532.0V518.9H1534.6V515.8H1537.2V517.3H1539.8V518.8H1542.4V520.0H1545.0V515.3H1547.6V518.4H1550.2V520.3H1552.8V520.0H1555.4V519.7H1558.0V515.0H1560.6V515.8H1563.2V516.7H1565.8V513.7H1568.4V513.9H1571.0V514.2H1573.6V516.9H1576.2V519.7H1578.8V515.0H1581.4V514.4H1584.0V513.7H1586.6V513.9H1589.2V514.2H1591.8V514.5H1594.4V514.7H1597.0V515.0H1599.6V517.0H1602.2V518.9H1604.8V520.0H1607.5V519.8H1610.1V519.7H1612.7V515.8H1615.3V516.0H1617.9V516.3H1620.5V517.9H1623.1V520.0H1625.7V519.3H1628.3V518.7H1630.9V518.0H1633.5V521.8H1636.1V525.0H1638.7V522.5H1641.3V523.7H1643.9V522.4H1646.5V521.3H1649.1V521.8H1651.7V522.2H1654.3V522.5H1656.9V523.7H1659.5V525.0H1662.1V526.7H1664.7V530.0H1667.3V534.9H1669.9V538.3H1672.5V544.2H1675.1V549.2H1677.7V550.4H1680.3V551.7H1682.9V552.5H1685.6V554.3H1688.2V555.0H1690.8V561.7H1693.4V563.0H1696.0V565.6H1698.6V567.5H1701.2V568.2H1703.8V568.8H1706.4V569.2H1709.0V575.0H1711.6V578.2H1714.2V580.0H1716.8V581.9H1719.4V583.4H1722.0V585.0H1724.6V585.1H1727.2V585.2H1729.8V585.3H1732.4V587.9H1735.0V591.7H1737.6V595.8H1748.0V597.4H1750.6V599.6H1753.2V600.8H1755.8V606.7H1758.4V608.9H1761.0V612.5H1763.6V614.1H1766.3V616.7H1768.9V618.3H1771.5V622.0H1774.1V622.9H1776.7V623.7H1779.3V625.0H1781.9V626.2H1784.5V629.5H1787.1V638.5H1789.7V639.7H1792.3V641.6H1794.9V643.5H1797.5V644.5H1800.1V651.3H1802.7V655.0H1805.3V658.5H1807.9V661.8H1810.5V662.8H1813.1V664.0H1815.7V664.8H1818.3V670.0H1820.9V672.7H1823.5V680.5H1826.1V681.9H1828.7V684.5H1831.3V686.5H1833.9V688.4H1836.5V690.0H1839.1V691.0H1841.7V694.0H1844.4V702.0H1847.0V703.3H1849.6V705.5H1852.2V708.7H1854.8V710.8H1857.4V714.7H1860.0V716.7H1862.6V724.7H1865.2V726.6H1867.8V727.9H1870.4V728.7H1873.0V736.0H1875.6V737.7H1878.2V739.3H1880.8V740.9H1883.4V742.0H1886.0V744.4H1888.6V746.3H1891.2V748.7H1893.8V751.4H1896.4V756.7H1899.0V757.8H1901.6V759.5H1904.2V766.0H1906.8V767.5H1909.4V770.1H1912.0V772.7H1914.6V777.2H1917.2V780.7H1919.8V781.6H1922.5V782.3H1925.1V782.7H1927.7V785.0H1930.3V786.7H1932.9V788.7H1935.5V792.8H1938.1V796.7H1940.7V803.3H1943.3V805.2H1945.9V807.3H1948.5V808.0H1951.1V808.7H1953.7V813.3H1956.3V813.9H1958.9V815.3H1961.5V820.0H1964.1V820.7H1966.7V822.0H1969.3V823.3H1971.9V828.7H1974.5V831.2H1977.1V834.0H1979.7V837.9H1982.3V840.7H1984.9V843.3H2143.7" stroke="#ffa500" stroke-width="1.5"/>
<path d="M271.5 577.4H282.4V586.6H298.0V577.4H308.4V568.2H313.6V577.4H344.9V568.2H352.7V577.4H355.3V586.6H360.5V568.2H363.1V559.1H365.7V540.7H378.7V549.9H383.9V559.1H389.1V577.4H415.1V568.2H417.8V577.4H423.0V586.6H425.6V604.9H428.2V843.3H1987.5V595.7H1992.7V604.9H1997.9V614.1H2011.0V641.6H2018.8V632.4H2024.0V623.2H2039.6V604.9H2047.4V614.1H2050.0V623.2H2063.0V614.1H2070.8V604.9H2076.0V614.1H2083.9V604.9H2094.3V595.7H2096.9V586.6H2109.9V595.7H2125.5V604.9H2130.7V614.1H2135.9V604.9H2138.5V586.6H2141.1V604.9H2141.5" stroke="#0000ff" stroke-width="3"/>
<path d="M271.5 742.4H298.0V733.3H352.7V742.4H360.5V724.1H365.7V705.8H415.1V696.6H423.0V705.8H425.6V714.9H426.9V733.3H428.2V843.3H1987.5V705.8H1997.9V714.9H2011.0V733.3H2024.0V724.1H2039.6V714.9H2063.0V705.8H2070.8V696.6H2083.9V687.4H2096.9V678.3H2109.9V687.4H2135.9V678.3H2141.1V687.4H2141.5" stroke="#00ffff" stroke-width="1.5"/>
<path d="M271.5 678.3H282.4V687.4H308.4V678.3H313.6V687.4H344.9V678.3H355.3V687.4H363.1V678.3H378.7V687.4H383.9V696.6H389.1V714.9H417.8V724.1H425.6V733.3H428.2V843.3H1987.5V733.3H1992.7V742.4H2011.0V751.6H2018.8V742.4H2039.6V733.3H2047.4V742.4H2050.0V751.6H2076.0V760.8H2094.3V751.6H2125.5V760.8H2130.7V769.9H2138.5V751.6H2141.1V751.6H2141.5" stroke="#a020f0" stroke-width="1.5"/>
</g>
<g font-size="44.7" text-anchor="middle">
<text x="298.0" y="939.0">1299400</text>
<text x="558.3" y="939.0">1299600</text>
<text x="818.7" y="939.0">1299800</text>
<text x="1079.0" y="939.0">1300000</text>
<text x="1339.3" y="939.0">1300200</text>
<text x="1599.6" y="939.0">1300400</text>
<text x="1860.0" y="939.0">1300600</text>
<text x="2120.3" y="939.0">1300800</text>
<text transform="translate(207.8 843.3) rotate(-90)">0</text>
<text transform="translate(207.8 659.9) rotate(-90)">20</text>
<text transform="translate(207.8 476.5) rotate(-90)">40</text>
<text transform="translate(207.8 293.2) rotate(-90)">60</text>
<text transform="translate(207.8 109.8) rotate(-90)">80</text>
<text x="1206.6" y="1045.5">Coordinate in Reference Genome</text>
<text transform="translate(101 450.8) rotate(-90)">Read Coverage Depth</text>
</g>
<g font-size="33.6">
<rect x="268.1" y="1123.0" width="24.2" height="20.2" fill="#0000ff" stroke="#000" stroke-width="1.7" stroke-linejoin="round"/><text x="322.3" y="1145">unique total</text>
<rect x="575.1" y="1123.0" width="24.2" height="20.2" fill="#00ffff" stroke="#000" stroke-width="1.7" stroke-linejoin="round"/><text x="629.3" y="1145">unique top</text>
<rect x="882.1" y="1123.0" width="24.2" height="20.2" fill="#a020f0" stroke="#000" stroke-width="1.7" stroke-linejoin="round"/><text x="936.3" y="1145">unique bottom</text>
<rect x="1189.1" y="1123.0" width="24.2" height="20.2" fill="#ff0000" stroke="#000" stroke-width="1.7" stroke-linejoin="round"/><text x="1243.3" y="1145">repeat total</text>
<rect x="1496.1" y="1123.0" width="24.2" height="20.2" fill="#ffff00" stroke="#000" stroke-width="1.7" stroke-linejoin="round"/><text x="1550.3" y="1145">repeat top</text>
<rect x="1803.1" y="1123.0" width="24.2" height="20.2" fill="#ffa500" stroke="#000" stroke-width="1.7" stroke-linejoin="round"/><text x="1857.3" y="1145">repeat bottom</text>
</g>
<rect x="1166.2" y="1119.2" width="1.4" height="1.4" fill="#111"/>
</svg>
</body></html>
